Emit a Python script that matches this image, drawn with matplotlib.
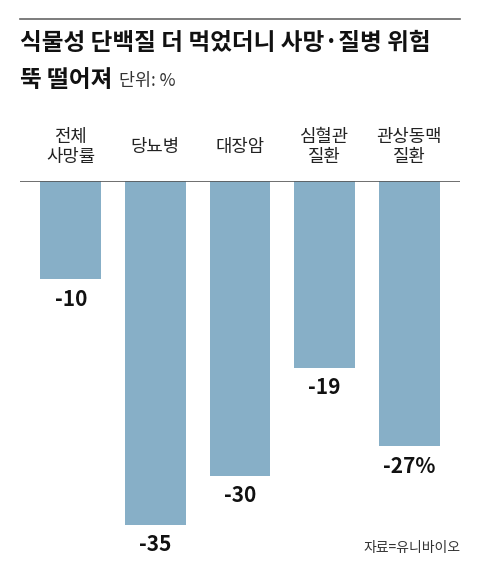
import matplotlib
matplotlib.use("Agg")
import matplotlib.pyplot as plt

plt.rcParams['font.family'] = ['Noto Sans CJK KR', 'DejaVu Sans']

# 데이터
categories = ['전체\n사망률', '당뇨병', '대장암', '심혈관\n질환', '관상동맥\n질환']
values = [-10, -35, -30, -19, -27]
value_labels = ['-10', '-35', '-30', '-19', '-27%']

bar_color = '#87AFC7'
text_color = '#222222'

W, H = 480, 575
fig = plt.figure(figsize=(W / 100, H / 100), dpi=100)

# 축 영역: x 20~460px, y 181px(기준선)~575px
ax = fig.add_axes([20 / W, 0, 440 / W, (H - 181) / H])
x = list(range(len(categories)))
ax.bar(x, values, width=0.72, color=bar_color)
ax.set_xlim(-0.6, 4.6)
ax.set_ylim(-40.1, 0)
ax.axis('off')
ax.axhline(0, color='#555555', lw=1.2)

for xi, v, lab in zip(x, values, value_labels):
    ax.annotate(lab, (xi, v), xytext=(0, -20), textcoords='offset pixels',
                ha='center', va='center', fontsize=15, color='#111111',
                fontweight='bold')

for xi, cat in zip(x, categories):
    ax.annotate(cat, (xi, 0), xytext=(0, 34), textcoords='offset pixels',
                ha='center', va='center', fontsize=12.8, color=text_color,
                linespacing=1.15)

# 상단 선
fig.add_artist(plt.Line2D([20 / W, 460 / W], [1 - 19 / H, 1 - 19 / H],
                          color='#666666', lw=1.2))

fig.text(20 / W, 1 - 43 / H, '식물성 단백질 더 먹었더니 사망·질병 위험',
         fontsize=17, fontweight='black', color='#111111', va='center', ha='left')
fig.text(20 / W, 1 - 80 / H, '뚝 떨어져', fontsize=17, fontweight='black',
         color='#111111', va='center', ha='left')
fig.text(119 / W, 1 - 81 / H, '단위: %', fontsize=12.5, color='#333333',
         va='center', ha='left')

fig.text(460 / W, 1 - 548 / H, '자료=유니바이오', fontsize=10, color='#333333',
         va='center', ha='right')

fig.savefig('out.png', dpi=100)
